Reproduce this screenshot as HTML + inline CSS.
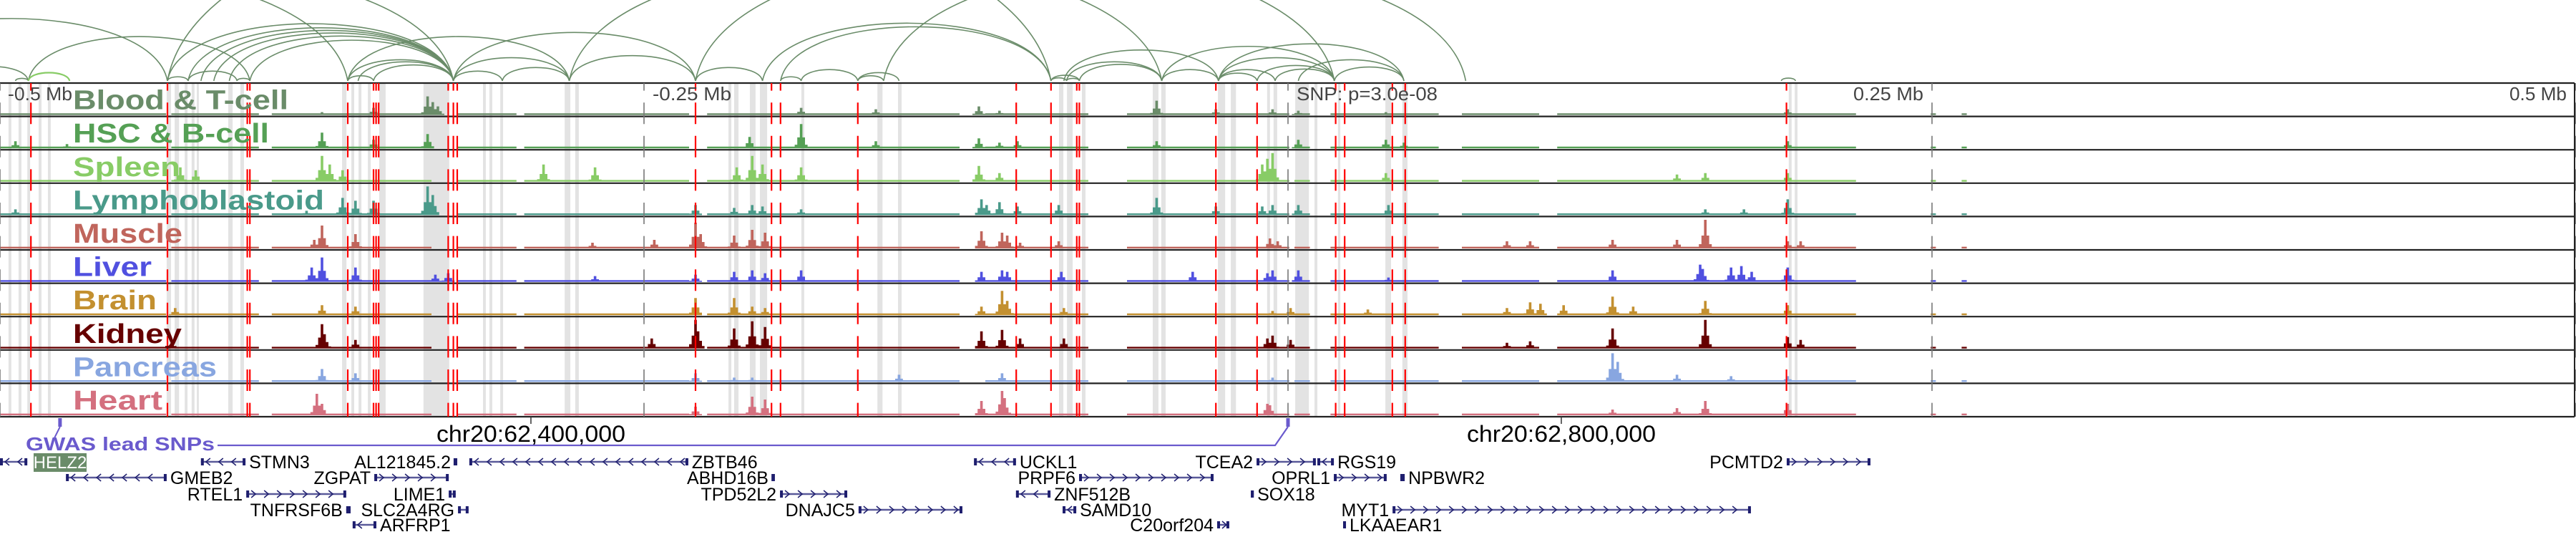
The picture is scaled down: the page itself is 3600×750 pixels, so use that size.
<!DOCTYPE html>
<html><head><meta charset="utf-8"><style>
html,body{margin:0;padding:0;background:#fff}
svg{display:block}
</style></head><body>
<svg id="chart" width="3600" height="750" viewBox="0 0 3600 750" xmlns="http://www.w3.org/2000/svg" font-family="Liberation Sans, DejaVu Sans, sans-serif">
<g id="stripes"></g>
<g id="arcs"></g>
<g id="tracks"></g>
<g id="vlines"></g>
<g id="labels"></g>
<g id="axis"></g>
<g id="genes"></g>
</svg>
<script>
// ---- data (kb relative to lead SNP) ----
const trackNames = ["Blood & T-cell","HSC & B-cell","Spleen","Lymphoblastoid","Muscle","Liver","Brain","Kidney","Pancreas","Heart"];
const trackColors = ["#6a8c69","#55a055","#88cc66","#4a9a8a","#c0655c","#5050e0","#c39030","#660000","#88a6e0","#d4707f"];
const labelWidths = [301,274,150,351,153,110,117,152,201,125];
const coverage = [[-500,-436],[-433,-400],[-394,-333],[-322,-300],[-296,-233],[-225,-128],[-117,-78],[-62,0],[3,8],[17,58],[68,97],[105,220],[250,251],[262,263]];
const baseLevel = 0.06;
const bloodPeaks = [[-334,0.65],[-332,0.45],[-330,0.3],[-355,0.25],[-375,0.1],[-189,0.25],[-160,0.2],[-120,0.3],[-112,0.15],[-51,0.5],[-28,0.2],[-6,0.2],[4,0.15],[38,0.1],[193.5,0.2]];
const hscPeaks = [[-375,0.55],[-334,0.5],[-355,0.3],[-494,0.25],[-474,0.15],[-209,0.4],[-189,0.85],[-160,0.25],[-120,0.35],[-112,0.2],[-105,0.25],[-51,0.25],[4,0.3],[38,0.3],[45,0.2],[193.5,0.25]];
const spleenPeaks = [[-375,0.9],[-372,0.6],[-367,0.4],[-430,0.5],[-424,0.4],[-289,0.6],[-269,0.5],[-208,0.9],[-204,0.6],[-214,0.5],[-189,0.5],[-120,0.55],[-112,0.3],[-6,1.0],[-8,0.8],[-10,0.6],[38,0.3],[151,0.25],[162,0.3],[193.5,0.3]];
const lymphoPeaks = [[-334,1.0],[-332,0.7],[-367,0.6],[-362,0.5],[-355,0.5],[-381,0.15],[-494,0.2],[-230,0.35],[-215,0.25],[-208,0.35],[-204,0.3],[-189,0.2],[-119,0.55],[-117,0.35],[-112,0.45],[-105,0.3],[-89,0.35],[-51,0.6],[-28,0.3],[-10,0.3],[-6,0.35],[4,0.35],[39,0.35],[162,0.2],[177,0.2],[193.5,0.55]];
const musclePeaks = [[-375,0.8],[-378,0.3],[-362,0.5],[-230,0.9],[-228,0.5],[-246,0.3],[-270,0.2],[-215,0.45],[-208,0.65],[-203,0.55],[-119,0.6],[-111,0.55],[-109,0.45],[-104,0.2],[-89,0.25],[-7,0.35],[-4,0.25],[84.7,0.25],[94,0.25],[126,0.3],[151,0.3],[162,1.0],[193.5,0.25],[199,0.25]];
const liverPeaks = [[-375,0.85],[-379,0.5],[-362,0.5],[-331,0.25],[-326,0.3],[-230,0.25],[-269,0.2],[-215,0.35],[-208,0.4],[-203,0.3],[-189,0.4],[-119,0.35],[-111,0.4],[-109,0.35],[-88,0.35],[-37,0.35],[-6,0.4],[-8,0.3],[4,0.4],[39,0.15],[126,0.4],[160,0.6],[161,0.45],[172,0.5],[176,0.55],[180,0.35],[193.5,0.5]];
const brainPeaks = [[-375,0.35],[-362,0.3],[-230,0.6],[-432,0.25],[-215,0.6],[-208,0.3],[-203,0.25],[-119,0.3],[-111,0.85],[-109,0.5],[-87,0.25],[-6,0.15],[1.4,0.25],[30.6,0.2],[84.7,0.25],[94,0.45],[97.5,0.4],[106.7,0.35],[126,0.65],[134,0.3],[162,0.5],[193.5,0.35]];
const kidneyPeaks = [[-375,0.85],[-374,0.5],[-362,0.3],[-230,1.0],[-229,0.6],[-247,0.35],[-433,0.2],[-215,0.7],[-208,0.95],[-203,0.75],[-119,0.6],[-111,0.65],[-104,0.35],[-87,0.35],[-6,0.45],[-8,0.35],[0.6,0.3],[84.7,0.2],[94,0.25],[126,0.7],[162,1.0],[193.5,0.4],[199,0.3]];
const pancreasPeaks = [[-375,0.45],[-362,0.3],[-230,0.3],[-215,0.15],[-208,0.15],[-151,0.25],[-111,0.3],[-6,0.15],[126,1.0],[128,0.7],[151,0.25],[172,0.2],[193.5,0.2]];
const heartPeaks = [[-377,0.75],[-375,0.4],[-230,0.3],[-208,0.65],[-203,0.55],[-119,0.5],[-111,0.85],[-110,0.6],[-8,0.4],[-7,0.35],[126,0.2],[151,0.25],[162,0.5],[193.5,0.4]];
const allPeaks = [bloodPeaks,hscPeaks,spleenPeaks,lymphoPeaks,musclePeaks,liverPeaks,brainPeaks,kidneyPeaks,pancreasPeaks,heartPeaks];
const redMarks = [-488,-435,-404,-403,-365,-355,-354,-353,-326,-324,-322.5,-230,-200.5,-197,-167,-105.5,-92,-82,-81,-28,-12,18.5,22,40.5,45.5,193.5];
const stripeStarts = [-496.7,-492.8,-489.4,-485,-481.4,-435.3,-432.2,-428.3,-425.6,-423.6,-411.4,-406.7,-367.2,-363.6,-360.8,-357.2,-352.8,-335.6,-312.5,-310,-305.8,-280.8,-276.7,-217.2,-215,-208.9,-205,-188.9,-159.4,-151.4,-88.9,-85.8,-80,-52.5,-49.2,-27.2,-22.2,-8.1,-5.6,2.8,10.3,19.4,37.8,44.4,194.4,196.7];
const stripeEnds = [-495.6,-491.7,-488.3,-483.9,-480.3,-433.6,-430.5,-427.2,-424.5,-422.8,-409.7,-405.3,-365.5,-362.5,-359.7,-356.1,-350.3,-325.6,-311.4,-308.9,-304.7,-278.6,-275.3,-216.1,-213.3,-206.7,-202.2,-187.8,-157.4,-150,-87.2,-83.6,-78.6,-50.3,-47.5,-24.4,-20.2,-7,-4.2,8.1,11.4,20.3,40,46.4,195.5,197.8];
const arcStarts = [-517,-494,-556,-489,-435,-427,-408,-435,-427,-422,-417,-411,-403,-365,-365,-355,-361,-365,-324,-324,-324,-305,-279,-230,-583,-435,-542,-279,-230,-204,-197,-197,-189,-167,-167,-157,-92,-86,-92,-87,-86,-81,-49,-49,-27,-27,-12,-5,-27,4,18,-27,191.5];
const arcEnds   = [-489,-489,-435,-403,-427,-408,-403,-324,-324,-324,-324,-324,-324,-355,-324,-324,-324,-279,-230,-305,-279,-279,-230,-204,-365,-92,-324,-49,18,-92,-92,-189,-167,-157,-151,69,-86,-81,-81,-27,-49,-49,18,-27,45,18,18,18,-5,45,45,-12,197];
const lightArcStarts = [-489];
const lightArcEnds = [-473];
const axisTickKb = [-500,-250,0,250,500];
const axisTickLabels = ["-0.5 Mb","-0.25 Mb","SNP: p=3.0e-08","0.25 Mb","0.5 Mb"];
const coordTickKb = [-293.9,106.1];
const coordTickLabels = ["chr20:62,400,000","chr20:62,800,000"];
const gwasSnpKb = [-476.7,0];
const geneNames = ["HELZ2","STMN3","AL121845.2","ZBTB46","GMEB2","ZGPAT","ABHD16B","RTEL1","LIME1","TPD52L2","TNFRSF6B","SLC2A4RG","DNAJC5","ARFRP1","UCKL1","TCEA2","RGS19","PRPF6","OPRL1","NPBWR2","ZNF512B","SOX18","SAMD10","MYT1","C20orf204","LKAAEAR1","PCMTD2"];
const geneStarts = [-500,-422,-323.6,-317.8,-474.4,-354.7,-200.3,-404.4,-325.8,-197.2,-365.6,-322.2,-166.7,-363.1,-121.9,-12.2,11.4,-81.1,17.8,43.6,-105.6,-14.4,-87.5,40.6,-27.5,21.4,193.6];
const geneEnds = [-489.4,-404.7,-322.8,-232.8,-435.3,-325.8,-199.4,-365.6,-323.1,-171.1,-363.9,-318.1,-126.4,-353.9,-105.6,10.8,17.8,-28.9,38.3,45.3,-92.2,-13.3,-82.2,179.7,-22.8,22.5,226.1];
const geneStrands = ["-","-","+","-","-","+","+","+","+","+","+","+","+","-","-","+","-","+","+","+","-","+","-","+","+","+","+"];
const geneRows = [0,0,0,0,1,1,1,2,2,2,3,3,3,4,0,0,0,1,1,1,2,2,3,3,4,4,0];
const geneLabelSide = ["R","R","L","R","R","L","L","L","L","L","L","L","L","R","R","L","R","L","L","R","R","R","R","L","L","R","L"];

// ---- scales ----
const NS="http://www.w3.org/2000/svg";
const PXKB = 3.6;
function X(kb){ return 1800 + kb*PXKB; }
const TOP=116, TH=46.6, NT=10, MAXH=40;
function trackTop(i){ return TOP + i*TH; }
function mk(tag, attrs, parent){ const e=document.createElementNS(NS,tag); for(const k in attrs) e.setAttribute(k,attrs[k]); parent.appendChild(e); return e; }

const gStripes=document.getElementById('stripes');
for(let i=0;i<stripeStarts.length;i++){
  const r=mk('rect',{x:X(stripeStarts[i]),y:TOP,width:Math.max(2,X(stripeEnds[i])-X(stripeStarts[i])),height:TH*NT,fill:'#e3e3e3'},gStripes);
  
  
}

// arcs
const gArcs=document.getElementById('arcs');
function arcPath(a,b){ const x1=X(a),x2=X(b); const h=(x2-x1)*0.2; const k=h*4/3; return `M${x1},113 C${x1+(x2-x1)*0.05},${113-k} ${x2-(x2-x1)*0.05},${113-k} ${x2},113`; }
for(let i=0;i<arcStarts.length;i++){
  const p=mk('path',{d:arcPath(arcStarts[i],arcEnds[i]),fill:'none',stroke:'#6a8c69','stroke-width':1.6},gArcs);
  
  
}
for(let i=0;i<lightArcStarts.length;i++){
  const p=mk('path',{d:arcPath(lightArcStarts[i],lightArcEnds[i]),fill:'none',stroke:'#88cc66','stroke-width':2.2},gArcs);
  
  
}

// tracks
const gTracks=document.getElementById('tracks');
const kernel=[0.15,0.45,1,0.45,0.15];
for(let t=0;t<NT;t++){
  const vals=new Map();
  coverage.forEach(([a,b])=>{ for(let k=Math.ceil(a);k<=Math.floor(b);k++) vals.set(k,baseLevel); });
  allPeaks[t].forEach(([kb,h])=>{ const c=Math.round(kb); for(let j=-2;j<=2;j++){ const k=c+j; const v=h*kernel[j+2]; if(v>(vals.get(k)||0)) vals.set(k,v);} });
  const base=trackTop(t)+TH-2;
  let d='';
  vals.forEach((v,k)=>{ const x=X(k-0.5); const hh=Math.max(1.5,v*MAXH); d+=`M${x.toFixed(1)},${base}h3.6v${(-hh).toFixed(1)}h-3.6z`; });
  const p=mk('path',{d:d,fill:trackColors[t]},gTracks);
  
  
}
// borders
for(let t=0;t<=NT;t++){
  const l=mk('line',{x1:0,x2:3598,y1:trackTop(t),y2:trackTop(t),stroke:'#222','stroke-width':2.2},gTracks);
  
  
}
mk('line',{x1:3598,x2:3598,y1:TOP,y2:TOP+TH*NT,stroke:'#222','stroke-width':2},gTracks);

// red marker lines and gray tick lines
const gV=document.getElementById('vlines');
redMarks.forEach(kb=>{
  const l=mk('line',{x1:X(kb),x2:X(kb),y1:TOP,y2:TOP+TH*NT,stroke:'#ff0000','stroke-width':2.2,'stroke-dasharray':'30 16.6','stroke-dashoffset':'19.4'},gV);
  
  
});
axisTickKb.forEach(kb=>{
  const l=mk('line',{x1:X(kb),x2:X(kb),y1:TOP,y2:TOP+TH*NT,stroke:'#777','stroke-width':1.6,'stroke-dasharray':'30 16.6','stroke-dashoffset':'19.4'},gV);
  
  
});

// track labels
const gL=document.getElementById('labels');
for(let t=0;t<NT;t++){
  const tx=mk('text',{x:102,y:trackTop(t)+TH-10,'font-size':38,'font-weight':'bold',fill:trackColors[t],textLength:labelWidths[t],lengthAdjust:'spacingAndGlyphs'},gL);
  tx.textContent=trackNames[t];
  
  
}

// axis
const gA=document.getElementById('axis');
const axisLabelX=[11,912,1812,2590,3507];
const axisLabelW=[90,110,197,98,80];
axisTickKb.forEach((kb,i)=>{
  const tx=mk('text',{x:axisLabelX[i],y:140,'font-size':26,fill:'#444',textLength:axisLabelW[i],lengthAdjust:'spacingAndGlyphs'},gA);
  tx.textContent=axisTickLabels[i];
  
  
});
coordTickKb.forEach((kb,i)=>{
  mk('line',{x1:X(kb),x2:X(kb),y1:582,y2:592,stroke:'#333','stroke-width':1.5},gA);
  const tx=mk('text',{x:X(kb)-132,y:617,'font-size':32,fill:'#000',textLength:264,lengthAdjust:'spacingAndGlyphs'},gA);
  tx.textContent=coordTickLabels[i];
  
  
});
// GWAS
gwasSnpKb.forEach(kb=>{
  const r=mk('rect',{x:X(kb)-2.5,y:584,width:5,height:12,fill:'#6a5acd'},gA);
  
  
});
mk('polyline',{points:`${X(gwasSnpKb[0])},596 ${X(gwasSnpKb[0])-8},612`,fill:'none',stroke:'#6a5acd','stroke-width':2},gA);
mk('polyline',{points:`304,622 ${X(gwasSnpKb[1])-18},622 ${X(gwasSnpKb[1])},596`,fill:'none',stroke:'#6a5acd','stroke-width':2.2},gA);
const gw=mk('text',{x:36,y:629,'font-size':26,'font-weight':'bold',fill:'#6a5acd',textLength:264,lengthAdjust:'spacingAndGlyphs'},gA);
gw.textContent='GWAS lead SNPs';



// genes
const gG=document.getElementById('genes');
const rowY=[645,667,690,712,733];
for(let i=0;i<geneNames.length;i++){
  const x1=X(geneStarts[i]), x2=X(geneEnds[i]), y=rowY[geneRows[i]];
  const g=mk('g',{},gG);
  
  
  mk('line',{x1:x1,x2:x2,y1:y,y2:y,stroke:'#5a5a9a','stroke-width':2.5},g);
  mk('rect',{x:x1,y:y-5,width:4,height:10,fill:'#1e1e6e'},g);
  mk('rect',{x:x2-4,y:y-5,width:4,height:10,fill:'#1e1e6e'},g);
  let d='';
  for(let cx=x1+10;cx<x2-6;cx+=18){ d+= geneStrands[i]==='+' ? `M${cx-3},${y-5}L${cx+3},${y}L${cx-3},${y+5}` : `M${cx+3},${y-5}L${cx-3},${y}L${cx+3},${y+5}`; }
  if(d) mk('path',{d:d,fill:'none',stroke:'#1e1e6e','stroke-width':1.5},g);
  if(geneNames[i]==='HELZ2'){
    mk('rect',{x:47,y:y-12,width:74,height:26,fill:'#6a8c69'},g);
    const t=mk('text',{x:84,y:y+9,'font-size':24,fill:'#fff','text-anchor':'middle'},g); t.textContent='HELZ2';
    continue;
  }
  const R=geneLabelSide[i]==='R';
  const t=mk('text',{x:R?x2+5:x1-5,y:y+9,'font-size':25,fill:'#000','text-anchor':R?'start':'end'},g);
  t.textContent=geneNames[i];
}
</script>
</body></html>
